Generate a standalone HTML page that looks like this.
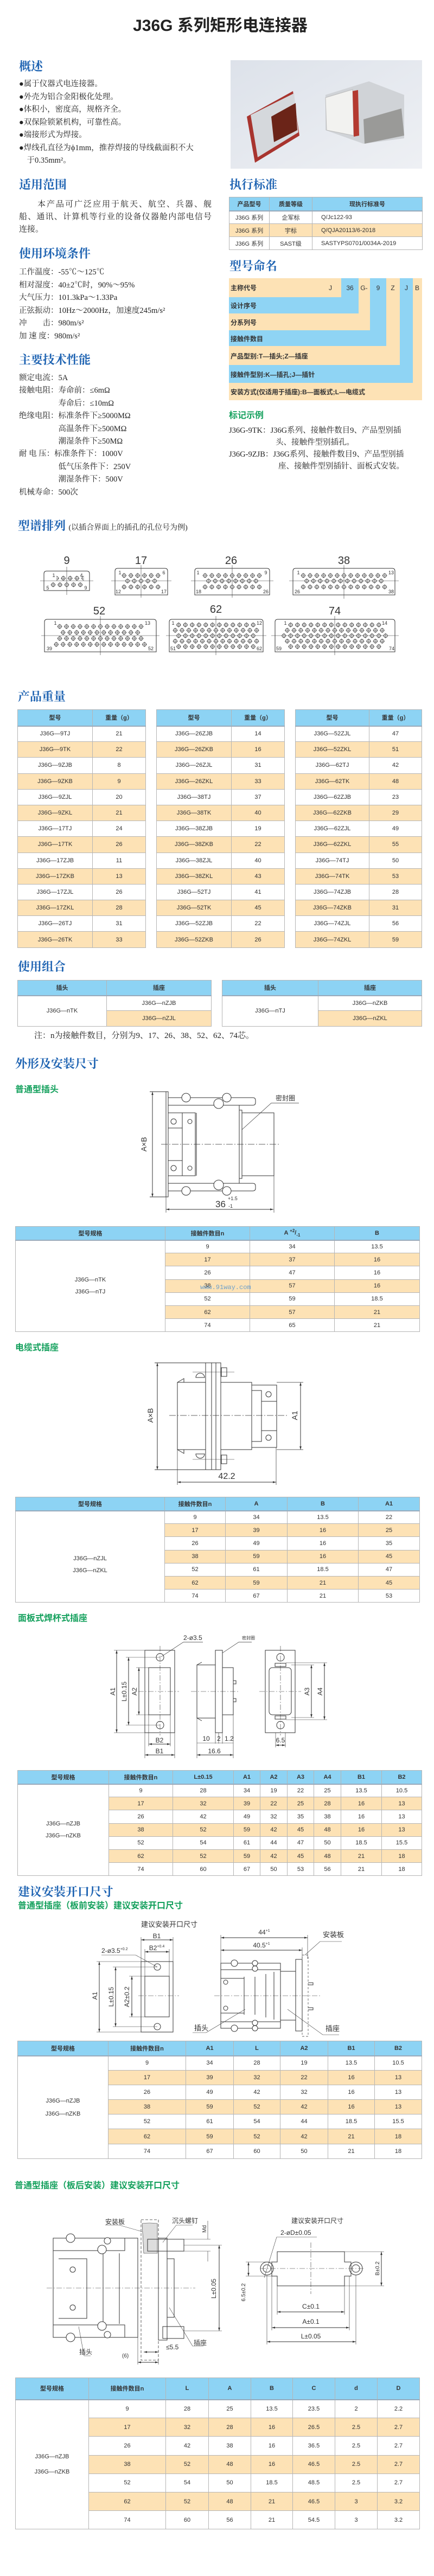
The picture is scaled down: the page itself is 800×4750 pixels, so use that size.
<!DOCTYPE html>
<html><head><meta charset="utf-8"><style>
*{margin:0;padding:0;box-sizing:border-box}
body{width:800px;height:4750px;position:relative;background:#fff;overflow:hidden;font-family:"Liberation Serif","Noto Serif CJK SC",serif;color:#222}
.a{position:absolute;white-space:nowrap}
.h{position:absolute;font:bold 22px "Liberation Serif","Noto Serif CJK SC",serif;color:#1e63b2;line-height:26px;white-space:nowrap}
.g{position:absolute;font:bold 16px "Liberation Sans","Noto Sans CJK SC",sans-serif;color:#13a05c;line-height:20px;white-space:nowrap}
.t{position:absolute;font-size:14.5px;line-height:23.5px;white-space:nowrap}
.j{text-align:justify;text-align-last:justify;height:23px;font-size:15px;line-height:23px}
table{position:absolute;border-collapse:collapse;table-layout:fixed;font:11px "Liberation Sans","Noto Sans CJK SC",sans-serif;color:#333}
td,th{border:1px solid #b5b5b5;text-align:center;padding:0;overflow:hidden;white-space:nowrap}
th{background:#8dd3f4;font-weight:bold;border-bottom:2px solid #9ab}
tr.p td{background:#fde2b5}
.lbl{font:12px "Liberation Sans","Noto Sans CJK SC",sans-serif;fill:#333}
</style></head><body>

<div class="a" style="left:0;width:812px;text-align:center;top:22px;font:bold 30px 'Liberation Sans','Noto Sans CJK SC',sans-serif;color:#222">J36G 系列矩形电连接器</div>

<div class="h" style="left:35px;top:110px">概述</div>
<div class="t" style="left:35px;top:144px">●属于仪器式电连接器。<br>●外壳为铝合金阳极化处理。<br>●体积小，密度高，规格齐全。<br>●双保险锁紧机构，可靠性高。<br>●端接形式为焊接。<br>●焊线孔直径为ϕ1mm，推荐焊接的导线截面积不大<br>　于0.35mm²。</div>

<div class="h" style="left:35px;top:328px">适用范围</div>
<div class="a" style="left:35px;top:366px;width:355px">
<div class="j">　　本产品可广泛应用于航天、航空、兵器、舰</div>
<div class="j">船、通讯、计算机等行业的设备仪器舱内部电信号</div>
<div style="font-size:15px;line-height:23px">连接。</div></div>

<div class="h" style="left:35px;top:455px">使用环境条件</div>
<div class="t" style="left:35px;top:491px">工作温度：-55℃～125℃<br>相对湿度：40±2℃时，90%～95%<br>大气压力：101.3kPa～1.33Pa<br>正弦振动：10Hz～2000Hz，加速度245m/s²<br>冲　　击：980m/s²<br>加 速 度：980m/s²</div>

<div class="h" style="left:35px;top:651px">主要技术性能</div>
<div class="t" style="left:35px;top:686px;line-height:23.4px">额定电流：5A<br>接触电阻：寿命前：≤6mΩ<br>　　　　　寿命后：≤10mΩ<br>绝缘电阻：标准条件下≥5000MΩ<br>　　　　　高温条件下≥500MΩ<br>　　　　　潮湿条件下≥50MΩ<br>耐 电 压：标准条件下：1000V<br>　　　　　低气压条件下：250V<br>　　　　　潮湿条件下：500V<br>机械寿命：500次</div>

<div class="h" style="left:423px;top:328px">执行标准</div>
<table style="left:422px;top:363px;width:356px">
<colgroup><col style="width:74px"><col style="width:79px"><col style="width:203px"></colgroup>
<tr style="height:25px"><th>产品型号</th><th>质量等级</th><th>现执行标准号</th></tr>
<tr style="height:24px"><td>J36G 系列</td><td>企军标</td><td style="text-align:left;padding-left:16px">Q/Jc122-93</td></tr>
<tr class="p" style="height:24px"><td>J36G 系列</td><td>宇标</td><td style="text-align:left;padding-left:16px">Q/QJA20113/6-2018</td></tr>
<tr style="height:24px"><td>J36G 系列</td><td>SAST级</td><td style="text-align:left;padding-left:16px">SASTYPS0701/0034A-2019</td></tr>
</table>

<div class="h" style="left:423px;top:478px">型号命名</div>

<div class="g" style="left:422px;top:757px">标记示例</div>
<div class="a" style="left:422px;top:783px;font-size:14.5px;line-height:22px">J36G-9TK：J36G系列、接触件数目9、产品型别插<br><span style="padding-left:86px">头、接触件型别插孔。</span><br>J36G-9ZJB：J36G系列、接触件数目9、产品型别插<br><span style="padding-left:91px">座、接触件型别插针、面板式安装。</span></div>

<div class="h" style="left:33px;top:957px">型谱排列 <span style="font-size:14px;font-weight:normal;color:#222">(以插合界面上的插孔的孔位号为例)</span></div>

<div class="h" style="left:33px;top:1272px">产品重量</div>

<table style="left:32px;top:1308px;width:236px"><colgroup><col style="width:138px"><col style="width:98px"></colgroup>
<tr style="height:30px"><th>型号</th><th>重量（g）</th></tr>
<tr style="height:29.2px"><td>J36G—9TJ</td><td>21</td></tr><tr class="p" style="height:29.2px"><td>J36G—9TK</td><td>22</td></tr>
<tr style="height:29.2px"><td>J36G—9ZJB</td><td>8</td></tr><tr class="p" style="height:29.2px"><td>J36G—9ZKB</td><td>9</td></tr>
<tr style="height:29.2px"><td>J36G—9ZJL</td><td>20</td></tr><tr class="p" style="height:29.2px"><td>J36G—9ZKL</td><td>21</td></tr>
<tr style="height:29.2px"><td>J36G—17TJ</td><td>24</td></tr><tr class="p" style="height:29.2px"><td>J36G—17TK</td><td>26</td></tr>
<tr style="height:29.2px"><td>J36G—17ZJB</td><td>11</td></tr><tr class="p" style="height:29.2px"><td>J36G—17ZKB</td><td>13</td></tr>
<tr style="height:29.2px"><td>J36G—17ZJL</td><td>26</td></tr><tr class="p" style="height:29.2px"><td>J36G—17ZKL</td><td>28</td></tr>
<tr style="height:29.2px"><td>J36G—26TJ</td><td>31</td></tr><tr class="p" style="height:29.2px"><td>J36G—26TK</td><td>33</td></tr>
</table>
<table style="left:288px;top:1308px;width:236px"><colgroup><col style="width:138px"><col style="width:98px"></colgroup>
<tr style="height:30px"><th>型号</th><th>重量（g）</th></tr>
<tr style="height:29.2px"><td>J36G—26ZJB</td><td>14</td></tr><tr class="p" style="height:29.2px"><td>J36G—26ZKB</td><td>16</td></tr>
<tr style="height:29.2px"><td>J36G—26ZJL</td><td>31</td></tr><tr class="p" style="height:29.2px"><td>J36G—26ZKL</td><td>33</td></tr>
<tr style="height:29.2px"><td>J36G—38TJ</td><td>37</td></tr><tr class="p" style="height:29.2px"><td>J36G—38TK</td><td>40</td></tr>
<tr style="height:29.2px"><td>J36G—38ZJB</td><td>19</td></tr><tr class="p" style="height:29.2px"><td>J36G—38ZKB</td><td>22</td></tr>
<tr style="height:29.2px"><td>J36G—38ZJL</td><td>40</td></tr><tr class="p" style="height:29.2px"><td>J36G—38ZKL</td><td>43</td></tr>
<tr style="height:29.2px"><td>J36G—52TJ</td><td>41</td></tr><tr class="p" style="height:29.2px"><td>J36G—52TK</td><td>45</td></tr>
<tr style="height:29.2px"><td>J36G—52ZJB</td><td>22</td></tr><tr class="p" style="height:29.2px"><td>J36G—52ZKB</td><td>26</td></tr>
</table>
<table style="left:544px;top:1308px;width:233px"><colgroup><col style="width:136px"><col style="width:97px"></colgroup>
<tr style="height:30px"><th>型号</th><th>重量（g）</th></tr>
<tr style="height:29.2px"><td>J36G—52ZJL</td><td>47</td></tr><tr class="p" style="height:29.2px"><td>J36G—52ZKL</td><td>51</td></tr>
<tr style="height:29.2px"><td>J36G—62TJ</td><td>42</td></tr><tr class="p" style="height:29.2px"><td>J36G—62TK</td><td>48</td></tr>
<tr style="height:29.2px"><td>J36G—62ZJB</td><td>23</td></tr><tr class="p" style="height:29.2px"><td>J36G—62ZKB</td><td>29</td></tr>
<tr style="height:29.2px"><td>J36G—62ZJL</td><td>49</td></tr><tr class="p" style="height:29.2px"><td>J36G—62ZKL</td><td>55</td></tr>
<tr style="height:29.2px"><td>J36G—74TJ</td><td>50</td></tr><tr class="p" style="height:29.2px"><td>J36G—74TK</td><td>53</td></tr>
<tr style="height:29.2px"><td>J36G—74ZJB</td><td>28</td></tr><tr class="p" style="height:29.2px"><td>J36G—74ZKB</td><td>31</td></tr>
<tr style="height:29.2px"><td>J36G—74ZJL</td><td>56</td></tr><tr class="p" style="height:29.2px"><td>J36G—74ZKL</td><td>59</td></tr>
</table>

<div class="h" style="left:33px;top:1770px">使用组合</div>
<table style="left:32px;top:1807px;width:357px"><colgroup><col style="width:164px"><col style="width:193px"></colgroup>
<tr style="height:28px"><th>插头</th><th>插座</th></tr>
<tr style="height:28px"><td rowspan="2">J36G—nTK</td><td>J36G—nZJB</td></tr>
<tr class="p" style="height:29px"><td style="background:#fde2b5">J36G—nZJL</td></tr></table>
<table style="left:409px;top:1807px;width:368px"><colgroup><col style="width:177px"><col style="width:191px"></colgroup>
<tr style="height:28px"><th>插头</th><th>插座</th></tr>
<tr style="height:28px"><td rowspan="2">J36G—nTJ</td><td>J36G—nZKB</td></tr>
<tr class="p" style="height:29px"><td style="background:#fde2b5">J36G—nZKL</td></tr></table>
<div class="a" style="left:63px;top:1899px;font-size:15px;line-height:22px">注：n为接触件数目，分别为9、17、26、38、52、62、74芯。</div>

<div class="h" style="left:28px;top:1949px">外形及安装尺寸</div>
<div class="g" style="left:28px;top:2000px">普通型插头</div>

<table style="left:28px;top:2261px;width:745px"><colgroup><col style="width:276px"><col style="width:156px"><col style="width:156px"><col style="width:157px"></colgroup>
<tr style="height:25px"><th>型号规格</th><th>接触件数目n</th><th>A <sup style="font-size:8px">+2</sup>/<sub style="font-size:8px">-1</sub></th><th>B</th></tr>
<tr style="height:24.2px"><td rowspan="7" style="background:#fff;line-height:22px">J36G—nTK<br>J36G—nTJ</td><td>9</td><td>34</td><td>13.5</td></tr>
<tr class="p" style="height:24.2px"><td>17</td><td>37</td><td>16</td></tr>
<tr style="height:24.2px"><td>26</td><td>47</td><td>16</td></tr>
<tr class="p" style="height:24.2px"><td>38</td><td>57</td><td>16</td></tr>
<tr style="height:24.2px"><td>52</td><td>59</td><td>18.5</td></tr>
<tr class="p" style="height:24.2px"><td>62</td><td>57</td><td>21</td></tr>
<tr style="height:24.2px"><td>74</td><td>65</td><td>21</td></tr></table>
<div class="a" style="left:369px;top:2367px;font:12px 'Liberation Mono',monospace;color:#4a90d0;opacity:.8">www.91way.com</div>

<div class="g" style="left:28px;top:2476px">电缆式插座</div>
<table style="left:28px;top:2760px;width:745px"><colgroup><col style="width:275px"><col style="width:112px"><col style="width:114px"><col style="width:131px"><col style="width:113px"></colgroup>
<tr style="height:25px"><th>型号规格</th><th>接触件数目n</th><th>A</th><th>B</th><th>A1</th></tr>
<tr style="height:24.2px"><td rowspan="7" style="background:#fff;line-height:22px;padding-top:30px">J36G—nZJL<br>J36G—nZKL</td><td>9</td><td>34</td><td>13.5</td><td>22</td></tr>
<tr class="p" style="height:24.2px"><td>17</td><td>39</td><td>16</td><td>25</td></tr>
<tr style="height:24.2px"><td>26</td><td>49</td><td>16</td><td>35</td></tr>
<tr class="p" style="height:24.2px"><td>38</td><td>59</td><td>16</td><td>45</td></tr>
<tr style="height:24.2px"><td>52</td><td>61</td><td>18.5</td><td>47</td></tr>
<tr class="p" style="height:24.2px"><td>62</td><td>59</td><td>21</td><td>45</td></tr>
<tr style="height:24.2px"><td>74</td><td>67</td><td>21</td><td>53</td></tr></table>

<div class="g" style="left:33px;top:2975px">面板式焊杯式插座</div>
<table style="left:32px;top:3264px;width:745px"><colgroup><col style="width:168px"><col style="width:118px"><col style="width:112px"><col style="width:49px"><col style="width:50px"><col style="width:49px"><col style="width:50px"><col style="width:75px"><col style="width:74px"></colgroup>
<tr style="height:25px"><th>型号规格</th><th>接触件数目n</th><th>L±0.15</th><th>A1</th><th>A2</th><th>A3</th><th>A4</th><th>B1</th><th>B2</th></tr>
<tr style="height:24.2px"><td rowspan="7" style="background:#fff;line-height:22px">J36G—nZJB<br>J36G—nZKB</td><td>9</td><td>28</td><td>34</td><td>19</td><td>22</td><td>25</td><td>13.5</td><td>10.5</td></tr>
<tr class="p" style="height:24.2px"><td>17</td><td>32</td><td>39</td><td>22</td><td>25</td><td>28</td><td>16</td><td>13</td></tr>
<tr style="height:24.2px"><td>26</td><td>42</td><td>49</td><td>32</td><td>35</td><td>38</td><td>16</td><td>13</td></tr>
<tr class="p" style="height:24.2px"><td>38</td><td>52</td><td>59</td><td>42</td><td>45</td><td>48</td><td>16</td><td>13</td></tr>
<tr style="height:24.2px"><td>52</td><td>54</td><td>61</td><td>44</td><td>47</td><td>50</td><td>18.5</td><td>15.5</td></tr>
<tr class="p" style="height:24.2px"><td>62</td><td>52</td><td>59</td><td>42</td><td>45</td><td>48</td><td>21</td><td>18</td></tr>
<tr style="height:24.2px"><td>74</td><td>60</td><td>67</td><td>50</td><td>53</td><td>56</td><td>21</td><td>18</td></tr></table>

<div class="h" style="left:33px;top:3476px">建议安装开口尺寸</div>
<div class="g" style="left:33px;top:3505px">普通型插座（板前安装）建议安装开口尺寸</div>
<table style="left:32px;top:3763px;width:745px"><colgroup><col style="width:167px"><col style="width:143px"><col style="width:88px"><col style="width:86px"><col style="width:88px"><col style="width:86px"><col style="width:87px"></colgroup>
<tr style="height:27px"><th>型号规格</th><th>接触件数目n</th><th>A1</th><th>L</th><th>A2</th><th>B1</th><th>B2</th></tr>
<tr style="height:27.1px"><td rowspan="7" style="background:#fff;line-height:24px">J36G—nZJB<br>J36G—nZKB</td><td>9</td><td>34</td><td>28</td><td>19</td><td>13.5</td><td>10.5</td></tr>
<tr class="p" style="height:27.1px"><td>17</td><td>39</td><td>32</td><td>22</td><td>16</td><td>13</td></tr>
<tr style="height:27.1px"><td>26</td><td>49</td><td>42</td><td>32</td><td>16</td><td>13</td></tr>
<tr class="p" style="height:27.1px"><td>38</td><td>59</td><td>52</td><td>42</td><td>16</td><td>13</td></tr>
<tr style="height:27.1px"><td>52</td><td>61</td><td>54</td><td>44</td><td>18.5</td><td>15.5</td></tr>
<tr class="p" style="height:27.1px"><td>62</td><td>59</td><td>52</td><td>42</td><td>21</td><td>18</td></tr>
<tr style="height:27.1px"><td>74</td><td>67</td><td>60</td><td>50</td><td>21</td><td>18</td></tr></table>

<div class="g" style="left:27px;top:4021px">普通型插座（板后安装）建议安装开口尺寸</div>
<table style="left:28px;top:4384px;width:745px"><colgroup><col style="width:135px"><col style="width:142px"><col style="width:79px"><col style="width:78px"><col style="width:77px"><col style="width:78px"><col style="width:78px"><col style="width:78px"></colgroup>
<tr style="height:40px"><th>型号规格</th><th>接触件数目n</th><th>L</th><th>A</th><th>B</th><th>C</th><th>d</th><th>D</th></tr>
<tr style="height:34.2px"><td rowspan="7" style="background:#fff;line-height:28px">J36G—nZJB<br>J36G—nZKB</td><td>9</td><td>28</td><td>25</td><td>13.5</td><td>23.5</td><td>2</td><td>2.2</td></tr>
<tr class="p" style="height:34.2px"><td>17</td><td>32</td><td>28</td><td>16</td><td>26.5</td><td>2.5</td><td>2.7</td></tr>
<tr style="height:34.2px"><td>26</td><td>42</td><td>38</td><td>16</td><td>36.5</td><td>2.5</td><td>2.7</td></tr>
<tr class="p" style="height:34.2px"><td>38</td><td>52</td><td>48</td><td>16</td><td>46.5</td><td>2.5</td><td>2.7</td></tr>
<tr style="height:34.2px"><td>52</td><td>54</td><td>50</td><td>18.5</td><td>48.5</td><td>2.5</td><td>2.7</td></tr>
<tr class="p" style="height:34.2px"><td>62</td><td>52</td><td>48</td><td>21</td><td>46.5</td><td>3</td><td>3.2</td></tr>
<tr style="height:34.2px"><td>74</td><td>60</td><td>56</td><td>21</td><td>54.5</td><td>3</td><td>3.2</td></tr></table>

<svg width="800" height="4750" style="position:absolute;left:0;top:0" xmlns="http://www.w3.org/2000/svg">
<defs>
<marker id="m" viewBox="0 0 10 10" refX="10" refY="5" markerWidth="6" markerHeight="6" orient="auto-start-reverse"><path d="M0 2 L10 5 L0 8z" fill="#333"/></marker>
<pattern id="pin" width="12.5" height="10.5" patternUnits="userSpaceOnUse"><circle cx="6.25" cy="5.25" r="3.3" fill="#fff" stroke="#333" stroke-width="0.9"/><path d="M6.25 0.5V10M1.5 5.25H11" stroke="#333" stroke-width="0.6"/></pattern>
<linearGradient id="ph" x1="0" y1="0" x2="1" y2="1"><stop offset="0" stop-color="#dde2ea"/><stop offset="1" stop-color="#eef0f4"/></linearGradient>
</defs>

<!-- photo -->
<rect x="425" y="111" width="353" height="200" fill="url(#ph)"/>
<path d="M455 215 L540 168 L552 250 L470 300 Z" fill="#a8342e"/>
<path d="M462 212 L542 172 L550 244 L475 290 Z" fill="#d5d8dc"/>
<path d="M500 215 L545 190 L548 240 L505 262 Z" fill="#6b2418"/>
<path d="M600 175 L680 150 L745 175 L745 255 L670 265 L600 240 Z" fill="#d0d3d7"/>
<path d="M600 180 L650 165 L652 250 L602 240 Z" fill="#f2f2f0" stroke="#bbb"/>
<path d="M650 168 L660 166 L662 250 L652 252 Z" fill="#b43a30"/>
<path d="M670 220 L740 200 L745 250 L672 265 Z" fill="#9a9a98"/>

<!-- model naming staircase -->
<g>
<rect x="422" y="513" width="207" height="35" fill="#fde2b5"/>
<rect x="629" y="513" width="32" height="65" fill="#8fd4f4"/><rect x="422" y="548" width="207" height="30" fill="#8fd4f4"/>
<rect x="661" y="513" width="21" height="96" fill="#fde2b5"/><rect x="422" y="578" width="239" height="31" fill="#fde2b5"/>
<rect x="682" y="513" width="30" height="125" fill="#8fd4f4"/><rect x="422" y="609" width="260" height="29" fill="#8fd4f4"/>
<rect x="712" y="513" width="25" height="160" fill="#fde2b5"/><rect x="422" y="638" width="290" height="35" fill="#fde2b5"/>
<rect x="737" y="513" width="24" height="193" fill="#8fd4f4"/><rect x="422" y="673" width="315" height="33" fill="#8fd4f4"/>
<rect x="761" y="513" width="17" height="225" fill="#fde2b5"/><rect x="422" y="706" width="339" height="32" fill="#fde2b5"/>
<g font-family="Liberation Sans,Noto Sans CJK SC,sans-serif" font-size="12" font-weight="bold" fill="#333">
<text x="425" y="535">主称代号</text><text x="425" y="568">设计序号</text><text x="425" y="599">分系列号</text><text x="425" y="629">接触件数目</text>
<text x="425" y="661">产品型别:T—插头;Z—插座</text><text x="425" y="695">接触件型别:K—插孔;J—插针</text><text x="425" y="727">安装方式(仅适用于插座):B—面板式;L—电缆式</text>
<g font-weight="normal" text-anchor="middle"><text x="609" y="535">J</text><text x="645" y="535">36</text><text x="671" y="535">G-</text><text x="697" y="535">9</text><text x="724" y="535">Z</text><text x="749" y="535">J</text><text x="769" y="535">B</text></g>
</g></g>

<!-- pin diagrams -->
<g fill="none" stroke="#333" stroke-width="1">
<path d="M81 1089V1058Q81 1053 86 1053H160Q165 1053 165 1058V1089Z"/>
<path d="M212 1097V1053Q212 1048 217 1048H304Q309 1048 309 1053V1097Z"/>
<path d="M359 1097V1053Q359 1048 364 1048H492Q497 1048 497 1053V1097Z"/>
<path d="M540 1097V1053Q540 1048 545 1048H723Q728 1048 728 1053V1097Z"/>
<path d="M82 1202V1147Q82 1142 87 1142H283Q288 1142 288 1147V1202Z"/>
<path d="M312 1202V1147Q312 1142 317 1142H480Q485 1142 485 1147V1202Z"/>
<path d="M507 1202V1147Q507 1142 512 1142H723Q728 1142 728 1147V1202Z"/>
<g stroke-width="0.6"><path d="M74 1071H172M123 1045V1097M205 1071H316M260 1042V1102M352 1071H504M428 1042V1102M533 1071H735M634 1042V1104M76 1172H294M185 1136V1208M306 1172H491M398 1136V1208M500 1172H735M617 1136V1208"/></g>
</g>
<g>
<rect transform="translate(98,1061)" width="50" height="10.5" fill="url(#pin)" x="6.25"/>
<rect transform="translate(91.75,1073)" width="62.5" height="10.5" fill="url(#pin)" x="0"/>
<rect transform="translate(222.5,1056)" width="75" height="10.5" fill="url(#pin)"/>
<rect transform="translate(228.75,1066)" width="62.5" height="10.5" fill="url(#pin)"/>
<rect transform="translate(222.5,1077)" width="75" height="10.5" fill="url(#pin)"/>
<rect transform="translate(371.75,1056)" width="112.5" height="10.5" fill="url(#pin)"/>
<rect transform="translate(378,1066)" width="100" height="10.5" fill="url(#pin)"/>
<rect transform="translate(371.75,1077)" width="112.5" height="10.5" fill="url(#pin)"/>
<rect transform="translate(552.75,1056)" width="162.5" height="10.5" fill="url(#pin)"/>
<rect transform="translate(559,1066)" width="150" height="10.5" fill="url(#pin)"/>
<rect transform="translate(552.75,1077)" width="162.5" height="10.5" fill="url(#pin)"/>
<rect transform="translate(103.75,1150)" width="162.5" height="10.5" fill="url(#pin)"/>
<rect transform="translate(110,1161)" width="150" height="10.5" fill="url(#pin)"/>
<rect transform="translate(103.75,1172)" width="162.5" height="10.5" fill="url(#pin)"/>
<rect transform="translate(97.5,1183)" width="175" height="10.5" fill="url(#pin)"/>
<rect transform="translate(323,1147)" width="150" height="10.5" fill="url(#pin)"/>
<rect transform="translate(316.75,1157)" width="162.5" height="10.5" fill="url(#pin)"/>
<rect transform="translate(323,1167)" width="150" height="10.5" fill="url(#pin)"/>
<rect transform="translate(316.75,1177)" width="162.5" height="10.5" fill="url(#pin)"/>
<rect transform="translate(323,1187)" width="150" height="10.5" fill="url(#pin)"/>
<rect transform="translate(529.5,1147)" width="175" height="10.5" fill="url(#pin)"/>
<rect transform="translate(523.25,1157)" width="187.5" height="10.5" fill="url(#pin)"/>
<rect transform="translate(517,1167)" width="200" height="10.5" fill="url(#pin)"/>
<rect transform="translate(523.25,1177)" width="187.5" height="10.5" fill="url(#pin)"/>
<rect transform="translate(529.5,1187)" width="175" height="10.5" fill="url(#pin)"/>
</g>
<g font-family="Liberation Sans,sans-serif" fill="#333" text-anchor="middle">
<g font-size="20"><text x="123" y="1040">9</text><text x="260" y="1040">17</text><text x="426" y="1040">26</text><text x="634" y="1040">38</text><text x="183" y="1133">52</text><text x="398" y="1130">62</text><text x="617" y="1133">74</text></g>
<g font-size="9"><text x="99" y="1064">1</text><text x="150" y="1064">4</text><text x="88" y="1087">5</text><text x="158" y="1087">9</text>
<text x="221" y="1059">1</text><text x="302" y="1059">6</text><text x="218" y="1094">12</text><text x="302" y="1094">17</text>
<text x="365" y="1059">1</text><text x="490" y="1059">9</text><text x="366" y="1094">18</text><text x="490" y="1094">26</text>
<text x="550" y="1059">1</text><text x="721" y="1059">13</text><text x="548" y="1094">26</text><text x="721" y="1094">38</text>
<text x="102" y="1152">1</text><text x="272" y="1152">13</text><text x="91" y="1199">39</text><text x="278" y="1199">52</text>
<text x="319" y="1152">1</text><text x="478" y="1152">12</text><text x="319" y="1199">51</text><text x="478" y="1199">62</text>
<text x="526" y="1152">1</text><text x="709" y="1152">14</text><text x="514" y="1199">59</text><text x="722" y="1199">74</text></g>
</g>

<!-- drawings -->
<g fill="none" stroke="#333" stroke-width="1">
<!-- D1 -->
<line x1="281" y1="2013" x2="281" y2="2207" marker-start="url(#m)" marker-end="url(#m)"/>
<path d="M276 2013H306M276 2207H306"/>
<rect x="306" y="2013" width="4" height="194"/>
<path d="M310 2024H466Q471 2024 471 2029V2033Q471 2038 466 2038H310M310 2196H466Q471 2196 471 2191V2187Q471 2182 466 2182H310"/>
<rect x="310" y="2038" width="131" height="144"/>
<rect x="310" y="2052" width="50" height="116"/><path d="M362 2052V2168M310 2080H336M310 2140H336M336 2052V2168"/>
<circle cx="320" cy="2068" r="5"/><circle cx="320" cy="2154" r="5"/><circle cx="350" cy="2068" r="4"/><circle cx="350" cy="2154" r="4"/>
<circle cx="343" cy="2024" r="8" fill="#fff"/><circle cx="418" cy="2024" r="8" fill="#fff"/><circle cx="403" cy="2035" r="9" fill="#fff"/>
<circle cx="343" cy="2196" r="8" fill="#fff"/><circle cx="418" cy="2196" r="8" fill="#fff"/><circle cx="403" cy="2185" r="9" fill="#fff"/>
<rect x="441" y="2047" width="5" height="126"/><rect x="446" y="2052" width="59" height="116"/>
<path d="M297 2110H515" stroke-dasharray="12 3 2 3" stroke-width="0.7"/>
<path d="M551 2034H500L446 2083" stroke-width="0.7"/>
<line x1="306" y1="2230" x2="504" y2="2230" marker-start="url(#m)" marker-end="url(#m)"/>
<path d="M306 2207V2236M505 2168V2236" stroke-width="0.7"/>
<!-- D2 -->
<line x1="290" y1="2513" x2="290" y2="2710" marker-start="url(#m)" marker-end="url(#m)"/>
<path d="M285 2513H379M285 2710H379"/>
<rect x="379" y="2513" width="28" height="197"/><path d="M390 2513V2710M398 2513V2710"/>
<rect x="327" y="2549" width="52" height="124"/><path d="M327 2549L339 2542V2549M327 2673L339 2680V2673"/>
<rect x="407" y="2549" width="57" height="124"/><rect x="464" y="2554" width="46" height="115"/>
<rect x="464" y="2564" width="18" height="94"/><path d="M482 2584H510M482 2638H510"/>
<circle cx="495" cy="2571" r="5"/><circle cx="495" cy="2651" r="5"/>
<path d="M361 2540A8 8 0 0 1 377 2540ZM361 2681A8 8 0 0 0 377 2681Z"/><rect x="408" y="2522" width="10" height="16"/><rect x="408" y="2683" width="10" height="16"/>
<path d="M355 2530H432M355 2691H432" stroke-width="0.6"/>
<path d="M312 2610H530" stroke-dasharray="12 3 2 3" stroke-width="0.7"/>
<line x1="554" y1="2549" x2="554" y2="2673" marker-start="url(#m)" marker-end="url(#m)"/>
<path d="M510 2549H559M510 2673H559" stroke-width="0.7"/>
<line x1="327" y1="2733" x2="509" y2="2733" marker-start="url(#m)" marker-end="url(#m)"/>
<path d="M327 2673V2738M509 2669V2738" stroke-width="0.7"/>
<!-- D3 -->
<rect x="267" y="3043" width="55" height="152"/><rect x="274" y="3075" width="40" height="87"/>
<circle cx="295" cy="3056" r="7"/><circle cx="295" cy="3181" r="7"/>
<line x1="215" y1="3043" x2="215" y2="3195" marker-start="url(#m)" marker-end="url(#m)"/>
<line x1="237" y1="3056" x2="237" y2="3181" marker-start="url(#m)" marker-end="url(#m)"/>
<line x1="256" y1="3075" x2="256" y2="3162" marker-start="url(#m)" marker-end="url(#m)"/>
<path d="M210 3043H267M210 3195H267M232 3056H295M232 3181H295M251 3075H274M251 3162H274" stroke-width="0.6"/>
<line x1="274" y1="3216" x2="314" y2="3216" marker-start="url(#m)" marker-end="url(#m)"/>
<line x1="267" y1="3236" x2="322" y2="3236" marker-start="url(#m)" marker-end="url(#m)"/>
<path d="M267 3195V3242M322 3195V3242M274 3162V3220M314 3162V3220" stroke-width="0.6"/>
<path d="M374 3028H338L297 3055" stroke-width="0.7"/>
<rect x="397" y="3043" width="13" height="152"/><rect x="363" y="3070" width="34" height="98"/><rect x="410" y="3075" width="20" height="87"/>
<path d="M363 3070L372 3065M363 3168L372 3173M430 3099H435V3105H430M430 3132H435V3138H430"/>
<path d="M464 3028H440L410 3048" stroke-width="0.7"/>
<path d="M363 3168V3242M397 3195V3215M403 3195V3215M410 3195V3215M430 3162V3242" stroke-width="0.6"/>
<line x1="363" y1="3236" x2="430" y2="3236" marker-start="url(#m)" marker-end="url(#m)"/>
<line x1="363" y1="3214" x2="430" y2="3214" stroke-width="0.6"/>
<rect x="489" y="3043" width="55" height="152"/><rect x="496" y="3075" width="41" height="87" rx="6"/>
<rect x="507" y="3067" width="20" height="6"/><rect x="507" y="3164" width="20" height="6"/>
<circle cx="517" cy="3056" r="7"/><circle cx="517" cy="3181" r="7"/>
<line x1="574" y1="3070" x2="574" y2="3167" marker-start="url(#m)" marker-end="url(#m)"/>
<line x1="598" y1="3066" x2="598" y2="3171" marker-start="url(#m)" marker-end="url(#m)"/>
<path d="M537 3070H579M537 3167H579M527 3066H603M527 3171H603M508 3195V3222M526 3195V3222" stroke-width="0.6"/>
<line x1="508" y1="3218" x2="526" y2="3218" marker-start="url(#m)" marker-end="url(#m)"/>
<path d="M255 3119H330M352 3119H440M478 3119H555" stroke-dasharray="10 3 2 3" stroke-width="0.6"/>
<path d="M295 3035V3200M517 3035V3200" stroke-dasharray="10 3 2 3" stroke-width="0.6"/>
<!-- D4 -->
<rect x="260" y="3617" width="59" height="130"/><rect x="267" y="3644" width="45" height="75"/>
<circle cx="290" cy="3627" r="6"/><circle cx="290" cy="3737" r="6"/>
<line x1="183" y1="3617" x2="183" y2="3747" marker-start="url(#m)" marker-end="url(#m)"/>
<line x1="213" y1="3627" x2="213" y2="3737" marker-start="url(#m)" marker-end="url(#m)"/>
<line x1="243" y1="3644" x2="243" y2="3719" marker-start="url(#m)" marker-end="url(#m)"/>
<path d="M178 3617H260M178 3747H260M208 3627H290M208 3737H290M238 3644H267M238 3719H267" stroke-width="0.6"/>
<line x1="260" y1="3577" x2="319" y2="3577" marker-start="url(#m)" marker-end="url(#m)"/>
<line x1="267" y1="3599" x2="312" y2="3599" marker-start="url(#m)" marker-end="url(#m)"/>
<path d="M260 3572V3617M319 3572V3617M267 3594V3644M312 3594V3644" stroke-width="0.6"/>
<path d="M187 3605H250L290 3627" stroke-width="0.6"/>
<path d="M255 3680H330" stroke-dasharray="10 3 2 3" stroke-width="0.6"/>
<line x1="407" y1="3573" x2="567" y2="3573" marker-start="url(#m)" marker-end="url(#m)"/>
<line x1="407" y1="3596" x2="557" y2="3596" marker-start="url(#m)" marker-end="url(#m)"/>
<path d="M407 3568V3620M567 3568V3612M557 3591V3612" stroke-width="0.6"/>
<rect x="407" y="3620" width="110" height="120"/><path d="M407 3632H517M407 3728H517M407 3648H450V3712H407M450 3645V3715M470 3645V3715M490 3640V3720M505 3636V3724"/>
<circle cx="432" cy="3620" r="6" fill="#fff"/><circle cx="470" cy="3620" r="5" fill="#fff"/><circle cx="470" cy="3630" r="5" fill="#fff"/>
<circle cx="432" cy="3740" r="6" fill="#fff"/><circle cx="470" cy="3740" r="5" fill="#fff"/><circle cx="470" cy="3730" r="5" fill="#fff"/>
<circle cx="416" cy="3655" r="4"/><circle cx="416" cy="3703" r="4"/>
<rect x="517" y="3635" width="28" height="90"/><rect x="545" y="3613" width="12" height="132"/>
<rect x="557" y="3605" width="11" height="150" stroke-dasharray="4 3" stroke-width="0.7"/>
<path d="M568 3656H577V3660H568M568 3702H577V3706H568"/>
<path d="M395 3680H590" stroke-dasharray="10 3 2 3" stroke-width="0.6"/>
<path d="M355 3748H380L452 3705M625 3752H595L530 3705M630 3580H590L562 3605" stroke-width="0.6"/>
<!-- D5 -->
<rect x="98" y="4127" width="156" height="183"/><path d="M98 4150H230V4127M98 4287H230V4310M108 4165H160V4275H108M160 4165V4275M190 4155V4285M220 4155V4285"/>
<circle cx="134" cy="4185" r="5"/><circle cx="134" cy="4255" r="5"/>
<circle cx="130" cy="4127" r="8" fill="#fff"/><circle cx="198" cy="4132" r="6" fill="#fff"/><circle cx="188" cy="4148" r="8" fill="#fff"/>
<circle cx="130" cy="4310" r="8" fill="#fff"/><circle cx="198" cy="4305" r="6" fill="#fff"/><circle cx="188" cy="4289" r="8" fill="#fff"/>
<rect x="260" y="4093" width="32" height="259" stroke-dasharray="5 3" stroke-width="0.8"/>
<path d="M262 4100Q275 4098 290 4100V4155H265Z" fill="#ddd" stroke-width="0.6"/>
<rect x="292" y="4127" width="16" height="188"/><rect x="308" y="4165" width="13" height="108"/>
<rect x="272" y="4129" width="67" height="22"/><rect x="300" y="4290" width="39" height="22"/>
<line x1="404" y1="4140" x2="404" y2="4298" marker-start="url(#m)" marker-end="url(#m)"/>
<path d="M339 4140H409M339 4298H409" stroke-width="0.6"/>
<path d="M383 4095V4129M383 4151V4170M339 4129H388M339 4151H388" stroke-width="0.6"/>
<path d="M86 4219H360" stroke-dasharray="10 3 2 3" stroke-width="0.6"/>
<line x1="265" y1="4337" x2="292" y2="4337" marker-start="url(#m)" marker-end="url(#m)"/>
<line x1="254" y1="4356" x2="292" y2="4356" marker-start="url(#m)" marker-end="url(#m)"/>
<path d="M254 4310V4360M292 4352V4360" stroke-width="0.6"/>
<path d="M194 4103H220L262 4115M355 4103H325L300 4135M375 4326H355L312 4255M167 4344H155L145 4290" stroke-width="0.6"/>
<path d="M511 4152H635V4171H647V4197H635V4215H511V4197H501V4171H511Z"/>
<circle cx="492" cy="4183" r="12"/><circle cx="492" cy="4183" r="7"/><circle cx="656" cy="4183" r="12"/><circle cx="656" cy="4183" r="7"/>
<path d="M480 4183H670" stroke-dasharray="10 3 2 3" stroke-width="0.6"/><path d="M573 4135V4230" stroke-dasharray="10 3 2 3" stroke-width="0.6"/>
<line x1="703" y1="4152" x2="703" y2="4215" marker-start="url(#m)" marker-end="url(#m)"/>
<line x1="458" y1="4171" x2="458" y2="4197" marker-start="url(#m)" marker-end="url(#m)"/>
<path d="M635 4152H708M635 4215H708M453 4171H501M453 4197H501M511 4215V4268M635 4215V4268M501 4197V4297M644 4197V4297M492 4195V4323M656 4195V4323" stroke-width="0.6"/>
<line x1="511" y1="4263" x2="635" y2="4263" marker-start="url(#m)" marker-end="url(#m)"/>
<line x1="501" y1="4292" x2="644" y2="4292" marker-start="url(#m)" marker-end="url(#m)"/>
<line x1="492" y1="4318" x2="656" y2="4318" marker-start="url(#m)" marker-end="url(#m)"/>
<path d="M584 4125H510L487 4200" stroke-width="0.6"/>
</g>
<g class="lbl">
<text x="508" y="2029">密封圈</text>
<text transform="translate(270,2110) rotate(-90)" text-anchor="middle" font-size="14">A×B</text>
<text x="397" y="2226" font-size="17">36</text><text x="420" y="2213" font-size="9">+1.5</text><text x="421" y="2227" font-size="9">-1</text>
<text transform="translate(282,2610) rotate(-90)" text-anchor="middle" font-size="14">A×B</text>
<text transform="translate(548,2610) rotate(-90)" text-anchor="middle" font-size="14">A1</text>
<text x="418" y="2727" text-anchor="middle" font-size="16">42.2</text>
<text transform="translate(212,3119) rotate(-90)" text-anchor="middle">A1</text>
<text transform="translate(233,3119) rotate(-90)" text-anchor="middle">L±0.15</text>
<text transform="translate(252,3119) rotate(-90)" text-anchor="middle">A2</text>
<text x="294" y="3213" text-anchor="middle">B2</text><text x="294" y="3233" text-anchor="middle">B1</text>
<text x="338" y="3024">2-ø3.5</text><text x="446" y="3023" font-size="8">密封圈</text>
<text x="380" y="3210" text-anchor="middle">10</text><text x="400" y="3210">2</text><text x="414" y="3210">1.2</text><text x="395" y="3233" text-anchor="middle">16.6</text>
<text transform="translate(570,3119) rotate(-90)" text-anchor="middle">A3</text><text transform="translate(594,3119) rotate(-90)" text-anchor="middle">A4</text>
<text x="517" y="3213" text-anchor="middle">6.5</text>
<text x="260" y="3553" font-size="13">建议安装开口尺寸</text>
<text x="289" y="3574" text-anchor="middle">B1</text><text x="289" y="3596" text-anchor="middle">B2<tspan font-size="7" dy="-5">+0.4</tspan></text>
<text x="187" y="3601">2-ø3.5<tspan font-size="7" dy="-5">+0.2</tspan></text>
<text transform="translate(179,3680) rotate(-90)" text-anchor="middle">A1</text>
<text transform="translate(209,3682) rotate(-90)" text-anchor="middle">L±0.15</text>
<text transform="translate(238,3682) rotate(-90)" text-anchor="middle">A2±0.2</text>
<text x="487" y="3567" text-anchor="middle">44<tspan font-size="7" dy="-5">+1</tspan></text>
<text x="482" y="3591" text-anchor="middle">40.5<tspan font-size="7" dy="-5">+1</tspan></text>
<text x="595" y="3572" font-size="13">安装板</text><text x="358" y="3744" font-size="13">插头</text><text x="600" y="3745" font-size="13">插座</text>
<text x="194" y="4101">安装板</text><text x="317" y="4099">沉头螺钉</text>
<text transform="translate(380,4110) rotate(-90)" text-anchor="middle" font-size="10">Md</text>
<text transform="translate(398,4220) rotate(-90)" text-anchor="middle">L±0.05</text>
<text x="357" y="4324">插座</text><text x="146" y="4341">插头</text><text x="306" y="4332">≤5.5</text><text x="225" y="4347" font-size="10">(6)</text>
<text x="537" y="4099">建议安装开口尺寸</text><text x="517" y="4121">2-øD±0.05</text>
<text transform="translate(699,4183) rotate(-90)" text-anchor="middle" font-size="10">B±0.2</text>
<text transform="translate(452,4227) rotate(-90)" text-anchor="middle" font-size="10">6.5±0.2</text>
<text x="573" y="4257" text-anchor="middle">C±0.1</text><text x="573" y="4285" text-anchor="middle">A±0.1</text><text x="573" y="4312" text-anchor="middle">L±0.05</text>
</g>
</svg>
</body></html>
